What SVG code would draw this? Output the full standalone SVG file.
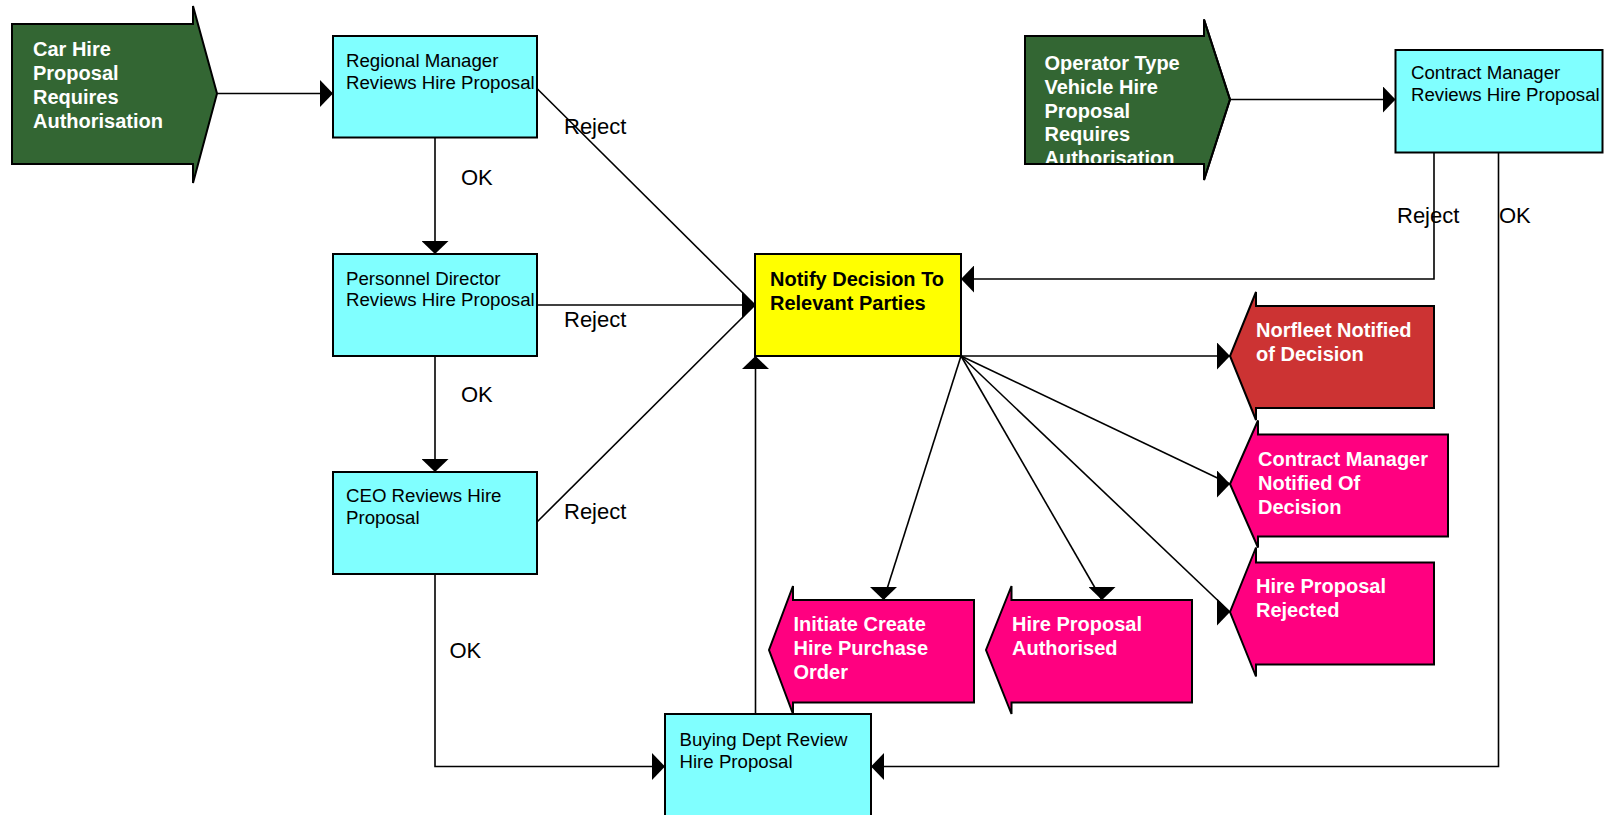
<svg xmlns="http://www.w3.org/2000/svg" width="1609" height="815" viewBox="0 0 1609 815">
  <style>
    .box { fill: #80FFFF; stroke: #000; stroke-width: 2; }
    .start { fill: #336633; stroke: #000; stroke-width: 2; }
    .alert { fill: #CC3333; stroke: #000; stroke-width: 2; }
    .result { fill: #FF0080; stroke: #000; stroke-width: 2; }
    .notify { fill: #FFFF00; stroke: #000; stroke-width: 2; }
    .outline { fill: none; stroke: #000; stroke-width: 2; }
    .txt { font-family: "Liberation Sans", Arial, sans-serif; font-size: 18.67px; fill: #000; }
    .btxt { font-family: "Liberation Sans", Arial, sans-serif; font-size: 20px; font-weight: bold; fill: #FFF; }
    .btxt-dark { font-family: "Liberation Sans", Arial, sans-serif; font-size: 20px; font-weight: bold; fill: #000; }
    .lbl { font-family: "Liberation Sans", Arial, sans-serif; font-size: 22px; fill: #000; }
    .conn { fill: none; stroke: #000; stroke-width: 1.6; }
  </style>
  <defs>
    <marker id="ah-right" viewBox="0 0 13 27" refX="13" refY="13.5" markerWidth="13" markerHeight="27" markerUnits="userSpaceOnUse" orient="0">
      <path d="M0,0 L13,13.5 L0,27 Z" fill="#000"/>
    </marker>
    <marker id="ah-left" viewBox="0 0 13 27" refX="13" refY="13.5" markerWidth="13" markerHeight="27" markerUnits="userSpaceOnUse" orient="180">
      <path d="M0,0 L13,13.5 L0,27 Z" fill="#000"/>
    </marker>
    <marker id="ah-down" viewBox="0 0 13 27" refX="13" refY="13.5" markerWidth="13" markerHeight="27" markerUnits="userSpaceOnUse" orient="90">
      <path d="M0,0 L13,13.5 L0,27 Z" fill="#000"/>
    </marker>
    <marker id="ah-up" viewBox="0 0 13 27" refX="13" refY="13.5" markerWidth="13" markerHeight="27" markerUnits="userSpaceOnUse" orient="270">
      <path d="M0,0 L13,13.5 L0,27 Z" fill="#000"/>
    </marker>
  </defs>

  <rect width="1609" height="815" fill="#FFF"/>

  <!-- connectors -->
  <g id="connectors">
    <line class="conn" x1="217" y1="93.5" x2="333" y2="93.5" marker-end="url(#ah-right)"/>
    <line class="conn" x1="435" y1="137.5" x2="435" y2="254" marker-end="url(#ah-down)"/>
    <line class="conn" x1="435" y1="356" x2="435" y2="472" marker-end="url(#ah-down)"/>
    <polyline class="conn" points="435,574 435,766.5 665,766.5" marker-end="url(#ah-right)"/>
    <line class="conn" x1="537" y1="88.5" x2="755" y2="305" marker-end="url(#ah-right)"/>
    <line class="conn" x1="537" y1="305" x2="755" y2="305" marker-end="url(#ah-right)"/>
    <line class="conn" x1="537" y1="522" x2="755" y2="305" marker-end="url(#ah-right)"/>
    <line class="conn" x1="755.5" y1="714" x2="755.5" y2="356" marker-end="url(#ah-up)"/>
    <line class="conn" x1="1230" y1="99.5" x2="1395.5" y2="99.5" marker-end="url(#ah-right)"/>
    <polyline class="conn" points="1434,152.5 1434,279 961,279" marker-end="url(#ah-left)"/>
    <polyline class="conn" points="1498.5,152.5 1498.5,766.5 871,766.5" marker-end="url(#ah-left)"/>
    <line class="conn" x1="961" y1="356" x2="1230" y2="356" marker-end="url(#ah-right)"/>
    <line class="conn" x1="961" y1="356" x2="1230" y2="484" marker-end="url(#ah-right)"/>
    <line class="conn" x1="961" y1="356" x2="1230" y2="612" marker-end="url(#ah-right)"/>
    <line class="conn" x1="961" y1="356" x2="1102" y2="600" marker-end="url(#ah-down)"/>
    <line class="conn" x1="961" y1="356" x2="883.5" y2="600" marker-end="url(#ah-down)"/>

    <text class="lbl" x="564" y="134">Reject</text>
    <text class="lbl" x="461" y="184.5">OK</text>
    <text class="lbl" x="564" y="327">Reject</text>
    <text class="lbl" x="461" y="402">OK</text>
    <text class="lbl" x="564" y="519">Reject</text>
    <text class="lbl" x="449.5" y="658">OK</text>
    <text class="lbl" x="1397" y="223">Reject</text>
    <text class="lbl" x="1499" y="223">OK</text>
  </g>

  <!-- start events -->
  <g id="car-hire-proposal">
    <polygon class="start" points="12,24 193,24 193,6 217,93.5 193,183 193,164 12,164"/>
    <text class="btxt" x="33" y="55.5">Car Hire</text>
    <text class="btxt" x="33" y="79.5">Proposal</text>
    <text class="btxt" x="33" y="103.5">Requires</text>
    <text class="btxt" x="33" y="127.5">Authorisation</text>
  </g>

  <g id="operator-vehicle-proposal">
    <polygon class="start" points="1025,36 1204,36 1204,19.5 1230,99.5 1204,180 1204,164 1025,164"/>
    <text class="btxt" x="1044.5" y="70">Operator Type</text>
    <text class="btxt" x="1044.5" y="93.8">Vehicle Hire</text>
    <text class="btxt" x="1044.5" y="117.6">Proposal</text>
    <text class="btxt" x="1044.5" y="141.4">Requires</text>
    <text class="btxt" x="1044.5" y="165.2">Authorisation</text>
    <polygon class="outline" points="1025,36 1204,36 1204,19.5 1230,99.5 1204,180 1204,164 1025,164"/>
  </g>

  <!-- review steps -->
  <g id="regional-manager-review">
    <rect class="box" x="333" y="36" width="204" height="101.5"/>
    <text class="txt" x="346" y="67">Regional Manager</text>
    <text class="txt" x="346" y="88.5">Reviews Hire Proposal</text>
  </g>

  <g id="personnel-director-review">
    <rect class="box" x="333" y="254" width="204" height="102"/>
    <text class="txt" x="346" y="284.5">Personnel Director</text>
    <text class="txt" x="346" y="305.5">Reviews Hire Proposal</text>
  </g>

  <g id="ceo-review">
    <rect class="box" x="333" y="472" width="204" height="102"/>
    <text class="txt" x="346" y="502">CEO Reviews Hire</text>
    <text class="txt" x="346" y="523.5">Proposal</text>
  </g>

  <g id="contract-manager-review">
    <rect class="box" x="1395.5" y="50" width="207" height="102.5"/>
    <text class="txt" x="1411" y="79">Contract Manager</text>
    <text class="txt" x="1411" y="100.5">Reviews Hire Proposal</text>
  </g>

  <g id="buying-dept-review">
    <rect class="box" x="665" y="714" width="206" height="102"/>
    <text class="txt" x="679.5" y="745.5">Buying Dept Review</text>
    <text class="txt" x="679.5" y="767.5">Hire Proposal</text>
  </g>

  <g id="notify-decision">
    <rect class="notify" x="755" y="254" width="206" height="102"/>
    <text class="btxt-dark" x="770" y="285.5">Notify Decision To</text>
    <text class="btxt-dark" x="770" y="309.5">Relevant Parties</text>
  </g>

  <!-- outcome events -->
  <g id="norfleet-notified">
    <polygon class="alert" points="1434,306 1256,306 1256,292 1230,356 1256,420 1256,408 1434,408"/>
    <text class="btxt" x="1256" y="337">Norfleet Notified</text>
    <text class="btxt" x="1256" y="361">of Decision</text>
  </g>

  <g id="contract-manager-notified">
    <polygon class="result" points="1448,434.5 1258,434.5 1258,420.5 1230,484 1258,547.5 1258,536.5 1448,536.5"/>
    <text class="btxt" x="1258" y="465.5">Contract Manager</text>
    <text class="btxt" x="1258" y="489.5">Notified Of</text>
    <text class="btxt" x="1258" y="513.5">Decision</text>
  </g>

  <g id="hire-proposal-rejected">
    <polygon class="result" points="1434,562.5 1256,562.5 1256,547.5 1230,612 1256,676.5 1256,664.5 1434,664.5"/>
    <text class="btxt" x="1256" y="593">Hire Proposal</text>
    <text class="btxt" x="1256" y="617">Rejected</text>
  </g>

  <g id="initiate-purchase-order">
    <polygon class="result" points="974,600 793,600 793,586 769,650 793,714 793,702.5 974,702.5"/>
    <text class="btxt" x="793.5" y="631">Initiate Create</text>
    <text class="btxt" x="793.5" y="655">Hire Purchase</text>
    <text class="btxt" x="793.5" y="679">Order</text>
  </g>

  <g id="hire-proposal-authorised">
    <polygon class="result" points="1192,600 1011.5,600 1011.5,586 986,650 1011.5,714 1011.5,702.5 1192,702.5"/>
    <text class="btxt" x="1012" y="631">Hire Proposal</text>
    <text class="btxt" x="1012" y="655">Authorised</text>
  </g>
</svg>
